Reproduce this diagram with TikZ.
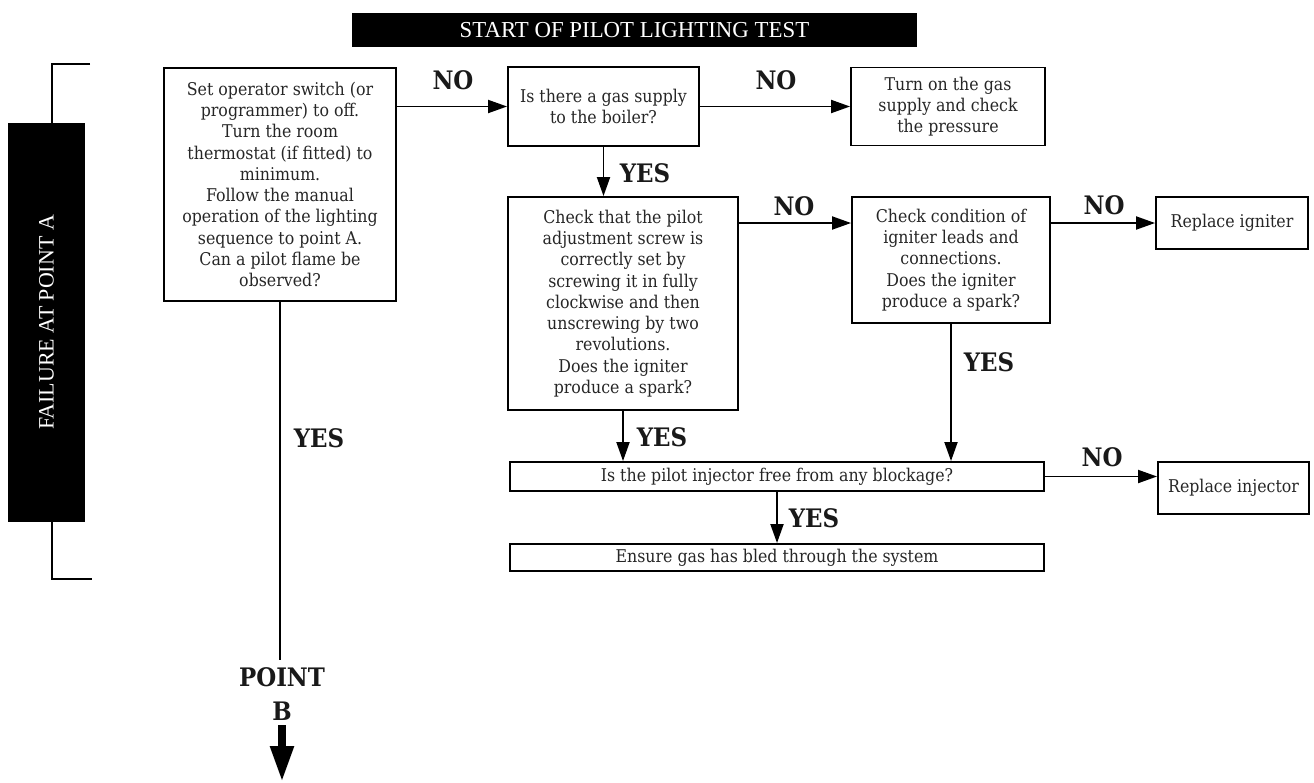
\documentclass[tikz,border=0pt]{standalone}
\usepackage{fontspec}
\setmainfont{DejaVu Serif Condensed}
\newfontfamily\headfont{Liberation Serif}
\usepackage{tikz}
\usetikzlibrary{arrows.meta}

\begin{document}
\begin{tikzpicture}[
  x=0.02cm, y=-0.02cm,
  >={Triangle[length=0.38cm,width=0.26cm]},
  every node/.style={font=\fontsize{10}{12.1}\selectfont, text=black!85},
  stepbox/.style={
    draw, line width=1.1pt, align=center, inner sep=2pt
  },
  answer/.style={
    font=\fontsize{14.5}{19}\selectfont\bfseries, text=black!90, align=center
  },
  banner/.style={
    fill=black, text=white, inner sep=0pt
  },
  flow/.style={->, line width=1.1pt},
  plain/.style={line width=1.1pt}
]
\useasboundingbox (0,0) rectangle (1314,782);

% --- Banners ---
\node[banner, minimum width=11.32cm, minimum height=0.68cm,
      font=\headfont\fontsize{13}{15}\selectfont] (title) at (634.5,30)
  {START OF PILOT LIGHTING TEST};

\coordinate (brtop) at (90,64);
\coordinate (brbot) at (92,579);
\draw[plain] (brtop) -| (52,579) -- (brbot);
\node[banner, rotate=90, minimum width=8cm, minimum height=1.54cm,
      font=\headfont\fontsize{12.5}{14}\selectfont] (failure) at (46.5,322.5)
  {FAILURE AT POINT A};

% --- Steps ---
\node[stepbox, minimum width=4.64cm, minimum height=4.66cm] (setup) at (280,184.5)
  {Set operator switch (or\\programmer) to off.\\Turn the room\\thermostat (if fitted) to\\minimum.\\Follow the manual\\operation of the lighting\\sequence to point A.\\Can a pilot flame be\\observed?};

\node[stepbox, minimum width=3.82cm, minimum height=1.58cm] (gas) at (603.5,106.5)
  {Is there a gas supply\\to the boiler?};

\node[stepbox, minimum width=3.88cm, minimum height=1.56cm] (supply) at (948,106.5)
  {Turn on the gas\\supply and check\\the pressure};

\node[stepbox, minimum width=4.6cm, minimum height=4.26cm] (pilot) at (623,303.5)
  {Check that the pilot\\adjustment screw is\\correctly set by\\screwing it in fully\\clockwise and then\\unscrewing by two\\revolutions.\\Does the igniter\\produce a spark?};

\node[stepbox, minimum width=3.96cm, minimum height=2.52cm] (leads) at (951,260)
  {Check condition of\\igniter leads and\\connections.\\Does the igniter\\produce a spark?};

\node[stepbox, minimum width=3.04cm, minimum height=1.04cm] (repign) at (1232,223)
  {Replace igniter};

\node[stepbox, minimum width=10.68cm, minimum height=0.58cm] (inject) at (777,476.5)
  {Is the pilot injector free from any blockage?};

\node[stepbox, minimum width=3.02cm, minimum height=1.04cm] (repinj) at (1233.5,488)
  {Replace injector};

\node[stepbox, minimum width=10.68cm, minimum height=0.54cm] (bleed) at (777,557.5)
  {Ensure gas has bled through the system};

% --- Connectors ---
\draw[flow] (setup.east |- gas) -- (gas.west);
\draw[flow] (gas.east) -- (gas.east -| supply.west);
\draw[flow] (gas.south) -- (gas.south |- pilot.north);
\draw[flow] (pilot.east |- repign) -- (leads.west |- repign);
\draw[flow] (leads.east |- repign) -- (repign.west);
\draw[flow] (pilot.south) -- (pilot.south |- inject.north);
\draw[flow] (leads.south) -- (leads.south |- inject.north);
\draw[flow] (inject.east) -- (inject.east -| repinj.west);
\draw[flow] (inject.south) -- (bleed.north);

\coordinate (pbline) at (280,660);
\draw[plain] (setup.south) -- (pbline);
\node[answer] (pointb) at (282,694) {POINT\\B};
\coordinate (pbtop) at (282,725);
\coordinate (pbend) at (282,782);
\draw[line width=0.16cm, -{Triangle[length=0.72cm,width=0.44cm]}] (pbtop) -- (pbend);

% --- Answers ---
\node[answer] (no1) at (453,80) {NO};
\node[answer] (no2) at (776,80) {NO};
\node[answer] (yes1) at (645,173) {YES};
\node[answer] (no3) at (794,206) {NO};
\node[answer] (no4) at (1104,205) {NO};
\node[answer] (yes2) at (662,437) {YES};
\node[answer] (yes3) at (989,362) {YES};
\node[answer] (no5) at (1102,457) {NO};
\node[answer] (yes4) at (814,518) {YES};
\node[answer] (yes5) at (319,438) {YES};

\end{tikzpicture}
\end{document}
